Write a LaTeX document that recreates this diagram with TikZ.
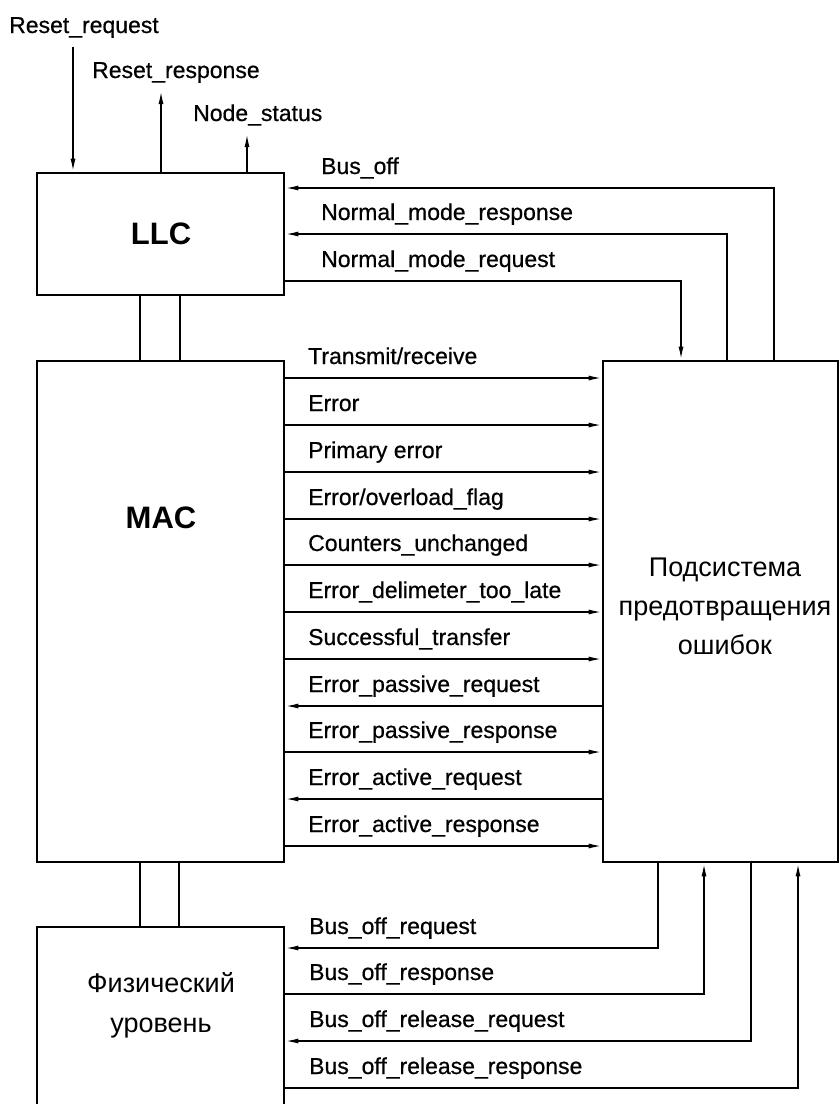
\documentclass[tikz,border=0pt]{standalone}
\usepackage{fontspec}
\setmainfont{Liberation Sans}
\newfontfamily\sigfont[FakeBold=0.6]{Liberation Sans}
\usetikzlibrary{arrows.meta}

\tikzset{
	block/.style={draw, line width=2.6pt, inner sep=0pt},
	bus/.style={line width=2.6pt},
	sig/.style={line width=1.6pt, -{Latex[length=13pt,width=5pt]}},
	siglabel/.style={anchor=base west, inner sep=0pt, font=\sigfont\fontsize{23}{27}\selectfont},
	title/.style={inner sep=0pt, font=\bfseries\fontsize{31}{36}\selectfont},
	rutext/.style={inner sep=0pt, align=center}
}

\begin{document}
\begin{tikzpicture}[x=1pt, y=-1pt]
		%%%%% START %%%%%
		\useasboundingbox (0,0) rectangle (840,1104);
		
		% blocks (the physical layer runs past the lower edge)
		\node[block, minimum width=247pt, minimum height=122pt] (llc) at (160.5,234) {};
		\node[block, minimum width=247pt, minimum height=501pt] (mac) at (160.5,611.5) {};
		\node[block, minimum width=235pt, minimum height=501pt] (sub) at (720.5,611.5) {};
		\node[block, minimum width=247pt, minimum height=200pt] (phy) at (160.5,1027) {};
		
		\node[title] (llctext) at (161,234) {LLC};
		\node[title] (mactext) at (161,518) {MAC};
		\node[rutext, font=\fontsize{27}{39}\selectfont] (subtext) at (725,606) {Подсистема\\предотвращения\\ошибок};
		\node[rutext, font=\fontsize{27}{40}\selectfont] (phytext) at (161,1005) {Физический\\уровень};
		
		% buses between layers
		\draw[bus] (llc.south -| 140,0) -- (mac.north -| 140,0);
		\draw[bus] (llc.south -| 180,0) -- (mac.north -| 180,0);
		\draw[bus] (mac.south -| 140,0) -- (phy.north -| 140,0);
		\draw[bus] (mac.south -| 179,0) -- (phy.north -| 179,0);
		
		% LLC top
		\coordinate (rstreq) at (73,47);
		\coordinate (rstresp) at (161,91);
		\coordinate (nodest) at (247,134);
		\draw[sig] (rstreq) -- (rstreq |- llc.north);
		\draw[sig] (rstresp |- llc.north) -- (rstresp);
		\draw[sig] (nodest |- llc.north) -- (nodest);
		\node[siglabel] (rstreqlbl) at (9,33) {Reset\_request};
		\node[siglabel] (rstresplbl) at (92,78) {Reset\_response};
		\node[siglabel] (nodestlbl) at (193,121) {Node\_status};
		
		% LLC <-> subsystem
		\draw[sig] (sub.north -| 774,0) |- (llc.east |- 0,188);
		\draw[sig] (sub.north -| 727,0) |- (llc.east |- 0,234);
		\draw[sig] (llc.east |- 0,281) -| (sub.north -| 681,0);
		\node[siglabel] (busofflbl) at (321,174) {Bus\_off};
		\node[siglabel] (nmresplbl) at (321,220) {Normal\_mode\_response};
		\node[siglabel] (nmreqlbl) at (321,267) {Normal\_mode\_request};
		
		% MAC <-> subsystem
		\foreach \y in {378,425,472,519,565,612,659,752,846}
			\draw[sig] (mac.east |- 0,\y) -- (sub.west |- 0,\y);
		\foreach \y in {706,799}
			\draw[sig] (sub.west |- 0,\y) -- (mac.east |- 0,\y);
		\foreach \y/\txt in {378/{Transmit/receive}, 425/Error, 472/Primary error,
			519/{Error/overload\_flag}, 565/Counters\_unchanged, 612/Error\_delimeter\_too\_late,
			659/Successful\_transfer, 706/Error\_passive\_request, 752/Error\_passive\_response,
			799/Error\_active\_request, 846/Error\_active\_response}
			\node[siglabel] at (308,\y-14) {\txt};
		
		% physical layer <-> subsystem
		\draw[sig] (sub.south -| 658,0) |- (phy.east |- 0,948);
		\draw[sig] (phy.east |- 0,994) -| (sub.south -| 704,0);
		\draw[sig] (sub.south -| 751,0) |- (phy.east |- 0,1041);
		\draw[sig] (phy.east |- 0,1088) -| (sub.south -| 798,0);
		\node[siglabel] (boreqlbl) at (309,934) {Bus\_off\_request};
		\node[siglabel] (boresplbl) at (309,980) {Bus\_off\_response};
		\node[siglabel] (borelreqlbl) at (309,1027) {Bus\_off\_release\_request};
		\node[siglabel] (borelresplbl) at (309,1074) {Bus\_off\_release\_response};
		
		%%%%% END %%%%%
\end{tikzpicture}
\end{document}
